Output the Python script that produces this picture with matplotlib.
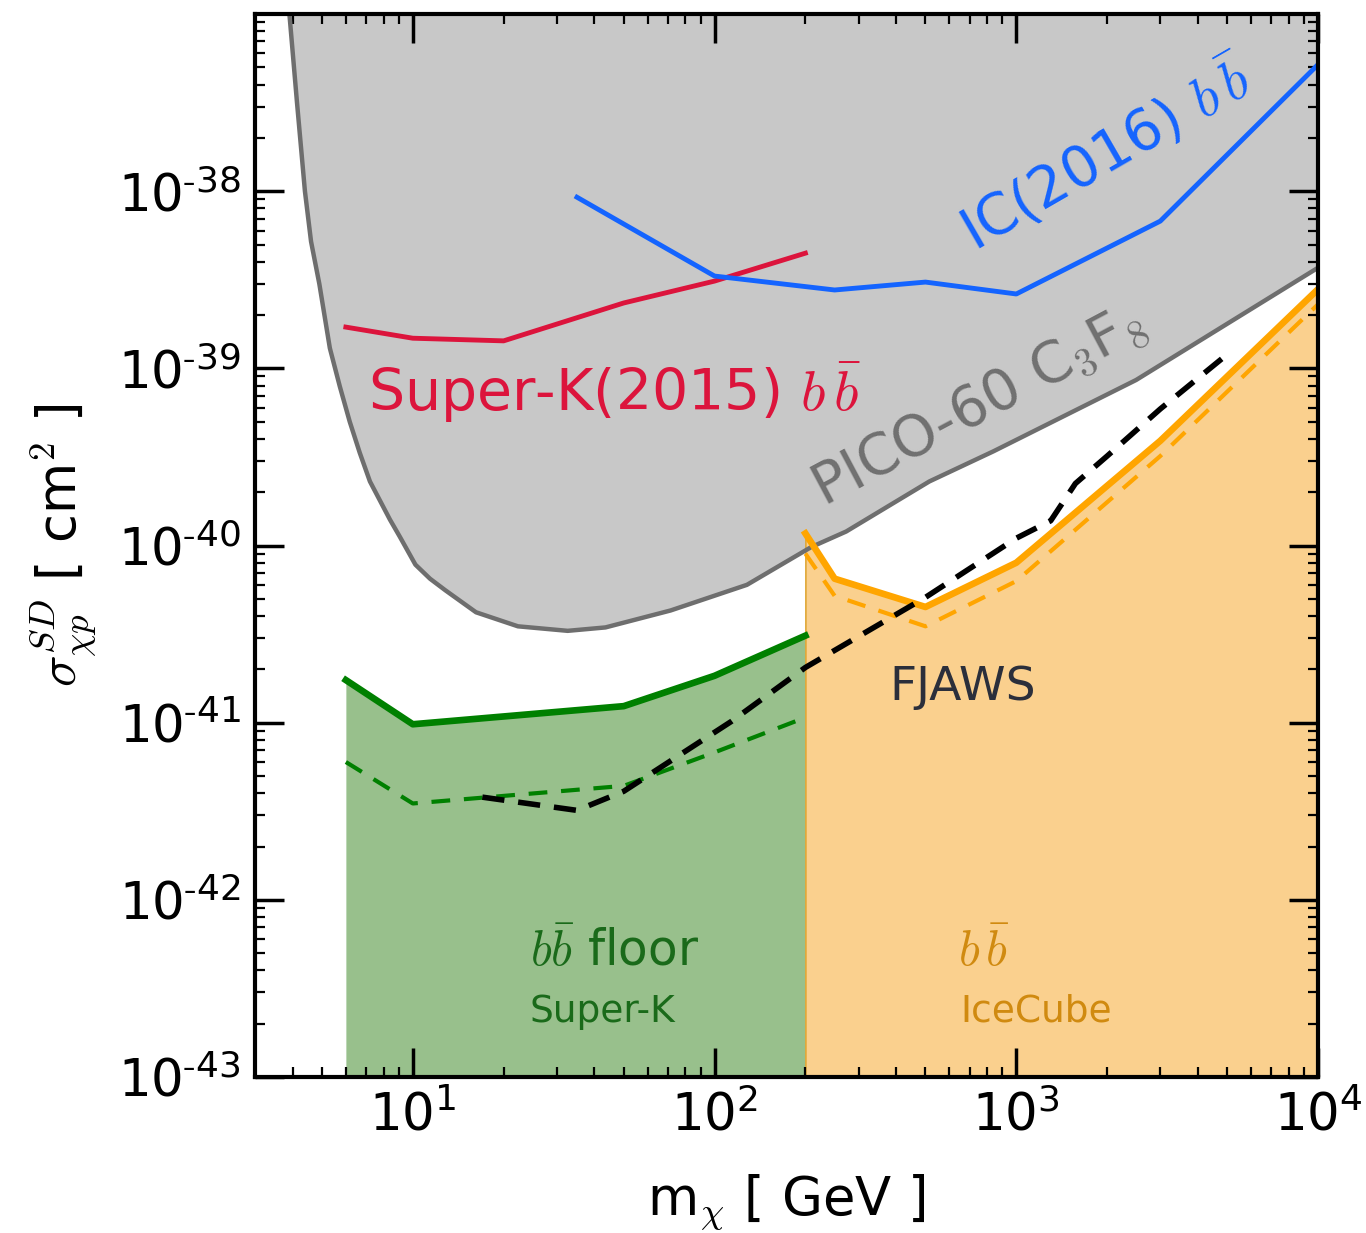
import numpy as np
import matplotlib
matplotlib.use("Agg")
import matplotlib.pyplot as plt
from matplotlib.ticker import FixedLocator, FixedFormatter, LogLocator, NullFormatter

plt.rcParams['font.family'] = ['DejaVu Sans']
plt.rcParams['mathtext.fontset'] = 'cm'

# PICO-60 C3F8 spin-dependent limit
pico_m = [3.9, 4.13, 4.39, 4.6, 4.9, 5.31, 5.73, 6.18, 6.67, 7.21, 8.4, 9.06,
          10.2, 11.4, 12.8, 16.2, 22.3, 32.6, 43.5, 71.5, 128, 209, 273, 515,
          839, 2495, 10000]
pico_s = [1.0e-37, 3.2e-38, 1.0e-38, 5.2e-39, 3.0e-39, 1.3e-39, 7.9e-40, 5.0e-40,
          3.34e-40, 2.3e-40, 1.4e-40, 1.12e-40, 7.8e-41, 6.5e-41, 5.6e-41, 4.2e-41,
          3.5e-41, 3.3e-41, 3.45e-41, 4.3e-41, 6.0e-41, 9.8e-41, 1.2e-40, 2.3e-40,
          3.4e-40, 8.6e-40, 3.7e-39]

# Super-K (2015) b bbar
sk_m = [6, 10, 20, 50, 100, 200]
sk_s = [1.71e-39, 1.48e-39, 1.43e-39, 2.34e-39, 3.11e-39, 4.47e-39]

# IceCube (2016) b bbar
ic_m = [35, 100, 250, 500, 1000, 3000, 10000]
ic_s = [9.25e-39, 3.32e-39, 2.77e-39, 3.07e-39, 2.63e-39, 6.78e-39, 5.19e-38]

# b bbar floor, Super-K
skf_m = [6, 10, 50, 100, 200]
skf_s = [1.74e-41, 9.8e-42, 1.24e-41, 1.84e-41, 3.1e-41]
skf_dash_m = [6, 10, 50, 100, 200]
skf_dash_s = [6.0e-42, 3.5e-42, 4.4e-42, 6.8e-42, 1.07e-41]

# b bbar, IceCube
icf_m = [200, 250, 500, 1000, 3000, 10000]
icf_s = [1.17e-40, 6.5e-41, 4.5e-41, 8.0e-41, 3.9e-40, 2.8e-39]
icf_dash_m = [200, 250, 500, 1000, 3000, 10000]
icf_dash_s = [9.0e-41, 5.2e-41, 3.5e-41, 6.3e-41, 3.2e-40, 2.3e-39]

# FJAWS
fj_m = [17, 35, 50, 114, 200, 500, 1000, 1300, 1570, 2000, 3000, 5000]
fj_s = [3.8e-42, 3.2e-42, 4.1e-42, 1.02e-41, 2.05e-41, 5.1e-41, 1.1e-40,
        1.38e-40, 2.24e-40, 3.2e-40, 5.9e-40, 1.2e-39]

xticks = [10, 100, 1000, 10000]
xticklabels = [r'$\mathregular{10^{1}}$', r'$\mathregular{10^{2}}$',
               r'$\mathregular{10^{3}}$', r'$\mathregular{10^{4}}$']
yticks = [1e-43, 1e-42, 1e-41, 1e-40, 1e-39, 1e-38]
yticklabels = [r'$\mathregular{10^{\text{-}%d}}$' % k for k in (43, 42, 41, 40, 39, 38)]

fig = plt.figure(figsize=(13.66, 12.33), dpi=100)
ax = fig.add_axes([0.1867, 0.1265, 0.7782, 0.8621])
ax.set_xscale('log')
ax.set_yscale('log')
ax.set_xlim(3, 1e4)
ax.set_ylim(1e-43, 1e-37)

# shaded regions
ax.fill_between(pico_m, pico_s, 1e-37, color='#c8c8c8', lw=0, zorder=1)
ax.fill_between(skf_m, 1e-43, skf_s, color='#98c08c', lw=0, zorder=1)
ax.fill_between(icf_m, 1e-43, icf_s, facecolor='#fad08e', edgecolor='#e0a838',
                lw=1.2, zorder=1)

ax.plot(pico_m, pico_s, color='#6e6e6e', lw=3.2, zorder=2, solid_joinstyle='round')
ax.plot(sk_m, sk_s, color='#dc143c', lw=3.5, zorder=3)
ax.plot(ic_m, ic_s, color='#1464ff', lw=3.5, zorder=3)

ax.plot(skf_m, skf_s, color='green', lw=4.8, zorder=4)
ax.plot(skf_dash_m, skf_dash_s, color='green', lw=3, dashes=(4.5, 3.3), zorder=4)
ax.plot(icf_m, icf_s, color='#ffa500', lw=4.8, zorder=4)
ax.plot(icf_dash_m, icf_dash_s, color='#ffa500', lw=3, dashes=(4.5, 3.3), zorder=4)
ax.plot(fj_m, fj_s, color='black', lw=4, dashes=(4, 2.5), zorder=5)

# labels
ax.text(7.1, 5.77e-40, r'Super-K(2015) $b\,\bar{b}$', color='#dc143c', fontsize=41,
        ha='left', va='baseline', zorder=6)
ax.text(1986, 1.6e-38, r'IC(2016) $b\,\bar{b}$', color='#1464ff', fontsize=41,
        rotation=30, rotation_mode='anchor', ha='center', va='center', zorder=6)
ax.text(753, 6.15e-40, r'PICO-60 C$_3$F$_8$', color='#707070', fontsize=41,
        rotation=28, rotation_mode='anchor', ha='center', va='center', zorder=6)
ax.text(662, 1.58e-41, 'FJAWS', color='#2b2f3b', fontsize=34,
        ha='center', va='center', zorder=6)
ax.text(46.7, 5.1e-43, r'$b\bar{b}$ floor', color='#1a6a1a', fontsize=35,
        ha='center', va='center', zorder=6)
ax.text(42.6, 2.34e-43, 'Super-K', color='#1a6a1a', fontsize=27,
        ha='center', va='center', zorder=6)
ax.text(783, 5.1e-43, r'$b\,\bar{b}$', color='#d08a10', fontsize=35,
        ha='center', va='center', zorder=6)
ax.text(1164, 2.34e-43, 'IceCube', color='#d08a10', fontsize=27,
        ha='center', va='center', zorder=6)

# axes styling
ax.xaxis.set_major_locator(FixedLocator(xticks))
ax.xaxis.set_major_formatter(FixedFormatter(xticklabels))
ax.xaxis.set_minor_locator(LogLocator(base=10, subs=np.arange(2, 10), numticks=20))
ax.xaxis.set_minor_formatter(NullFormatter())
ax.yaxis.set_major_locator(FixedLocator(yticks))
ax.yaxis.set_major_formatter(FixedFormatter(yticklabels))
ax.yaxis.set_minor_locator(LogLocator(base=10, subs=np.arange(2, 10), numticks=20))
ax.yaxis.set_minor_formatter(NullFormatter())

ax.tick_params(which='both', direction='in', top=True, right=True)
ax.tick_params(which='major', length=21, width=2.5, labelsize=37, pad=10)
ax.tick_params(which='minor', length=7, width=1.6)
for s in ax.spines.values():
    s.set_linewidth(3)
    s.set_zorder(10)

ax.set_xlabel(r'm$_\chi$ [ GeV ]', fontsize=38, labelpad=22)
ax.set_ylabel(r'$\sigma^{SD}_{\chi p}$ [ cm$^2$ ]', fontsize=38, labelpad=14)

fig.savefig('out.png', dpi=100)
